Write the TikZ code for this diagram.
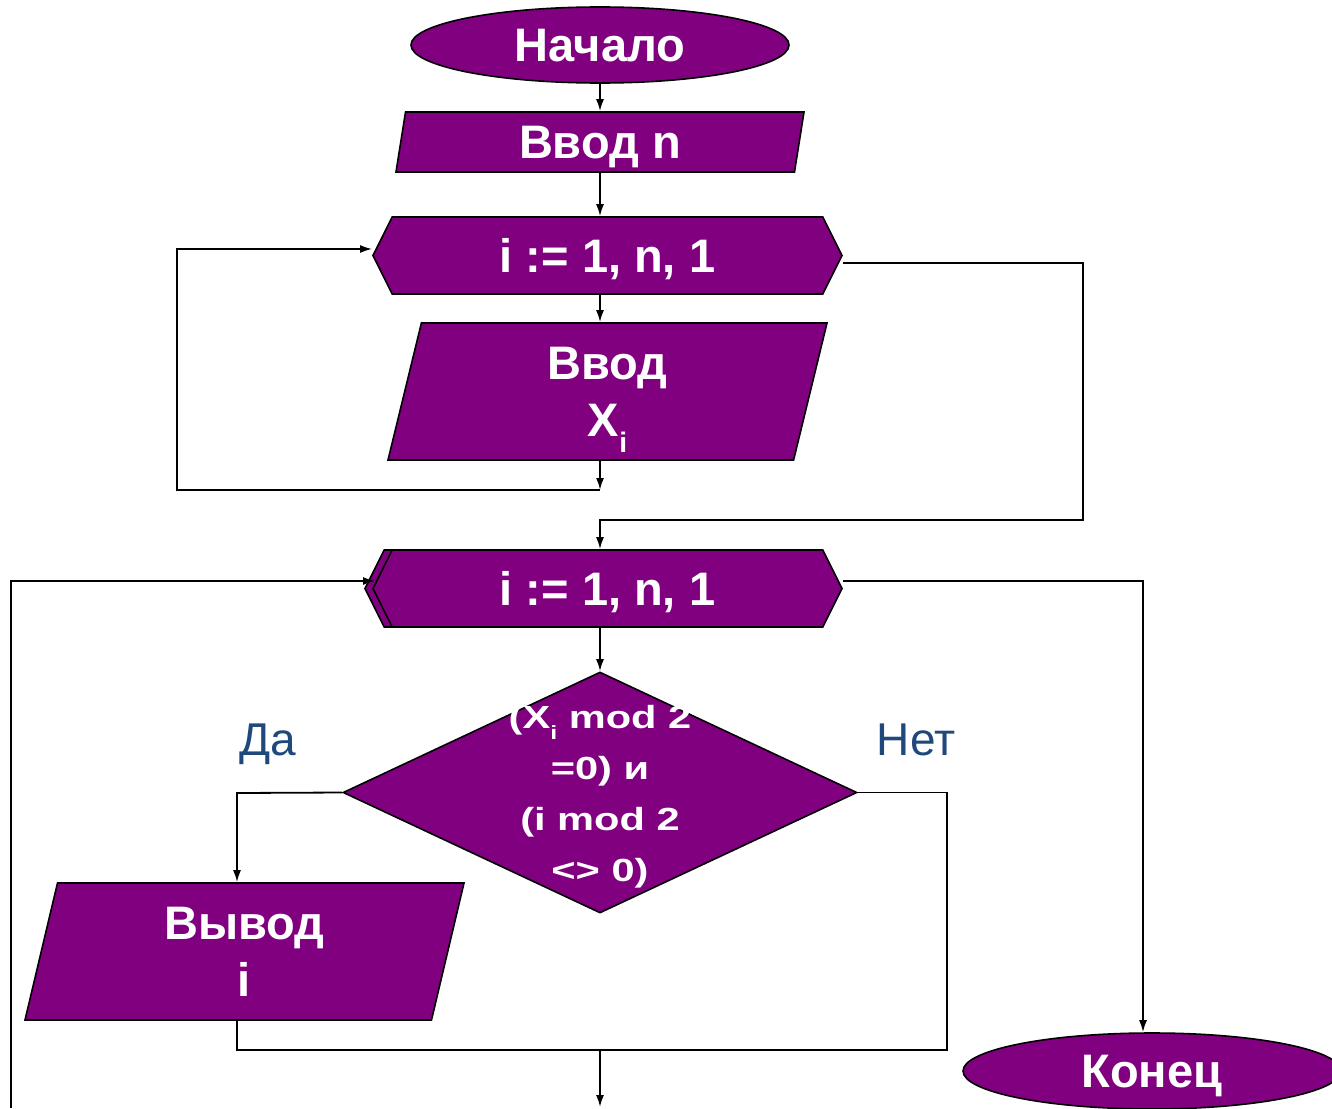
\documentclass[tikz,border=0pt]{standalone}
\usepackage{fontspec}
\setmainfont{Liberation Sans}
\newfontfamily\widefont[FakeStretch=1.3]{Liberation Sans}
\usetikzlibrary{shapes.geometric,shapes.symbols,arrows.meta}

\definecolor{plum}{RGB}{128,0,128}
\definecolor{capblue}{RGB}{31,73,125}
\newcommand{\sub}[1]{\raisebox{-0.35em}[0.4em][0pt]{\scalebox{0.6}{#1}}}

\tikzset{
          block/.style = {draw=black, line width=1.6pt, fill=plum, text=white, align=center, inner sep=0pt,
                          font=\bfseries\fontsize{47}{57}\selectfont},
          term/.style = {block, ellipse, text depth=0pt, minimum width=378pt, minimum height=76pt},
          io/.style 2 args = {block, trapezium, trapezium left angle=#1, trapezium right angle=#2,
                          trapezium stretches body, minimum height=137pt, minimum width=439pt},
          cycle/.style = {block, signal, signal to=west and east, signal pointer angle=127, text depth=0pt,
                          minimum width=469pt, minimum height=77pt},
          cond/.style = {block, diamond, minimum width=514pt, minimum height=241pt},
          condtext/.style = {text=white, align=center, inner sep=0pt, font=\widefont\bfseries\fontsize{32}{51}\selectfont},
          answer/.style = {text=capblue, inner sep=0pt, text depth=0pt, font=\fontsize{46}{46}\selectfont},
          wire/.style = {draw=black, line width=1.8pt, -{Latex[length=12pt,width=8pt]}},
          line/.style = {draw=black, line width=1.8pt}
        }

\begin{document}
\begin{tikzpicture}[x=1pt,y=-1pt]
          \clip (0,0) rectangle (1332,1108);
          \useasboundingbox (0,0) rectangle (1332,1108);

          \node[term] (start) at (600,45) {Начало};
          \node[io={73.6}{106.4}, text depth=0pt, minimum height=60pt, minimum width=408pt] (inn) at (600,142) {Ввод n};
          \node[cycle] (loop1) at (607.5,255.5) {i := 1, n, 1};
          \node[io={69.5}{110.5}] (inx) at (607.5,391.5) {Ввод\\X\sub{i}};

          \node[cycle, xshift=-8pt] (loop2b) at (607.5,588.5) {};
          \node[cycle] (loop2) at (607.5,588.5) {i := 1, n, 1};

          \node[cond] (cond) at (600,792.5) {};
          \node[condtext] (condlbl) at (600,797) {(X\sub{i} mod 2\\=0) и\\(i mod 2\\<> 0)};
          \node[answer] (yeslbl) at (268,740) {Да};
          \node[answer] (nolbl) at (916,740) {Нет};

          \node[io={70}{110}] (outi) at (244.5,951.5) {Вывод\\i};
          \node[term] (fin) at (1152,1071) {Конец};

          \coordinate (back1) at (600,490);
          \coordinate (left1) at (177,249);
          \coordinate (right1) at (1083,263);
          \coordinate (join1) at (600,520);
          \coordinate (left2) at (11,581);
          \coordinate (foot2) at (11,1108);
          \coordinate (right2) at (1143,581);
          \coordinate (yes) at (237,793);
          \coordinate (no) at (947,1050);
          \coordinate (merge) at (600,1050);
          \coordinate (foot) at (600,1107);

          \draw[wire] (start) -- (inn);
          \draw[wire] (inn) -- (inn |- loop1.north);
          \draw[wire] (inn |- loop1.south) -- (inn |- inx.north);
          \draw[wire] (inn |- inx.south) -- (back1);
          \draw[wire] (back1) -| (left1) -- (left1 -| loop1.west);
          \draw[wire] (loop1.east |- right1) -- (right1) |- (join1) -- (inn |- loop2.north);

          \draw[wire] (foot2) -- (left2) -- ([xshift=3pt]left2 -| loop2.west);
          \draw[wire] (loop2.east |- right2) -- (right2) -- (right2 |- fin.north);
          \draw[wire] (inn |- loop2.south) -- (cond);

          \draw[wire] (cond.west) -- (yes) -- (yes |- outi.north);
          \draw[line] (cond.east) -| (no) -- (yes |- no) -- (yes |- outi.south);
          \draw[wire] (merge) -- (foot);
        \end{tikzpicture}
\end{document}
